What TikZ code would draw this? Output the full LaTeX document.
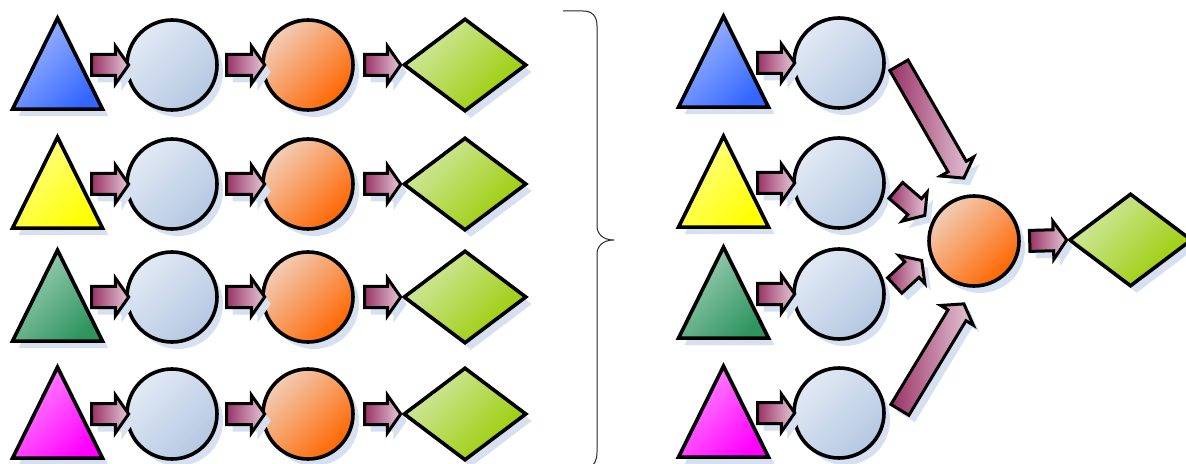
\documentclass[tikz,border=0pt]{standalone}
\usetikzlibrary{shapes.geometric, shapes.arrows, shadows, calc}
\definecolor{royal}{HTML}{3366FF}
\definecolor{lemon}{HTML}{FFFF00}
\definecolor{sea}{HTML}{2E955F}
\definecolor{fuchsia}{HTML}{FF00FF}
\definecolor{steel}{HTML}{B4C8E2}
\definecolor{steellt}{HTML}{E2E9F4}
\definecolor{sunset}{HTML}{FF6600}
\definecolor{sunsetlt}{HTML}{F2CDB6}
\definecolor{leaf}{HTML}{99CC00}
\definecolor{leaflt}{HTML}{D2E8A4}
\definecolor{plum}{HTML}{993366}
\definecolor{plumlt}{HTML}{E6C8D8}
\definecolor{shadowblue}{HTML}{D6E0F0}

\tikzset{
  shadowed/.style={drop shadow={shadow xshift=3pt, shadow yshift=-3.5pt, fill=shadowblue, opacity=1}},
  outlined/.style={draw=black, line width=1.8pt, inner sep=0pt, shadowed},
  tri/.style={outlined, isosceles triangle, isosceles triangle stretches,
    shape border rotate=90, minimum width=45pt, minimum height=45.5pt,
    top color=#1!45!white, bottom color=#1, shading angle=45},
  bubble/.style={outlined, circle, minimum size=45pt,
    top color=steellt, bottom color=steel, shading angle=45},
  ball/.style={outlined, circle, minimum size=45pt,
    top color=sunsetlt, bottom color=sunset, shading angle=45},
  rhomb/.style={outlined, diamond, minimum width=61.5pt, minimum height=46.5pt,
    top color=leaflt, bottom color=leaf, shading angle=45},
  fatarrow/.style={single arrow, draw=black, line width=1.5pt, inner xsep=0pt,
    inner ysep=4.5pt, single arrow head extend=4.3pt, single arrow tip angle=110,
    left color=plum, right color=plumlt, shadowed},
}

% block arrow between two points given relative to named nodes
\newcommand\blockarrow[2]{%
  \path let \p1=(#1), \p2=(#2), \n1={veclen(\x2-\x1,\y2-\y1)} in
    (\p1) -- (\p2) node[fatarrow, midway, sloped, minimum height=\n1] {};}

\begin{document}
\begin{tikzpicture}[x=0.5pt, y=-0.5pt]
  \useasboundingbox (0,0) rectangle (1186,464);

  % --- left: four separate chains ---
  \foreach \r/\y/\col in {1/65/royal, 2/184/lemon, 3/297/sea, 4/414/fuchsia} {
    \node[tri=\col, anchor=south] (tL\r) at (57.5,\y+46) {};
    \node[bubble] (cL\r) at (172,\y) {};
    \node[ball] (oL\r) at (308,\y) {};
    \node[rhomb] (dL\r) at (465,\y) {};
    \blockarrow{[shift={(30.5,-46)}]tL\r.south}{[shift={(-47,0)}]cL\r.center}
    \blockarrow{[shift={(51,0)}]cL\r.center}{[shift={(-47,0)}]oL\r.center}
    \blockarrow{[shift={(53,0)}]oL\r.center}{[shift={(-68,0)}]dL\r.center}
  }

  % --- brace ---
  \draw[line width=0.5pt, black!85]
    (563,11) -- (583,11) .. controls (592,11) and (597,16) .. (597,26)
    -- (597,226) .. controls (597,234) and (603,240) .. (614,240)
    .. controls (603,240) and (597,246) .. (597,254)
    -- (597,452) .. controls (597,461) and (594,466) .. (588,468);

  % --- right: chains merged into one ---
  \node[ball] (oR) at (974,241) {};
  \node[rhomb] (dR) at (1130.5,240) {};
  \foreach \r/\y/\col in {1/63/royal, 2/183/lemon, 3/294/sea, 4/413/fuchsia} {
    \node[tri=\col, anchor=south] (tR\r) at (723.5,\y+46) {};
    \node[bubble] (cR\r) at (839,\y) {};
    \blockarrow{[shift={(30.5,-46)}]tR\r.south}{[shift={(-48,0)}]cR\r.center}
  }
  \blockarrow{[shift={(58,-1)}]cR1.center}{[shift={(-12,-66)}]oR.center}
  \blockarrow{[shift={(54,5)}]cR2.center}{[shift={(-52,-28)}]oR.center}
  \blockarrow{[shift={(53,-6)}]cR3.center}{[shift={(-55,22)}]oR.center}
  \blockarrow{[shift={(59,0)}]cR4.center}{[shift={(-12,66)}]oR.center}
  \blockarrow{[shift={(52,0)}]oR.center}{[shift={(-67.5,0)}]dR.center}
\end{tikzpicture}
\end{document}
